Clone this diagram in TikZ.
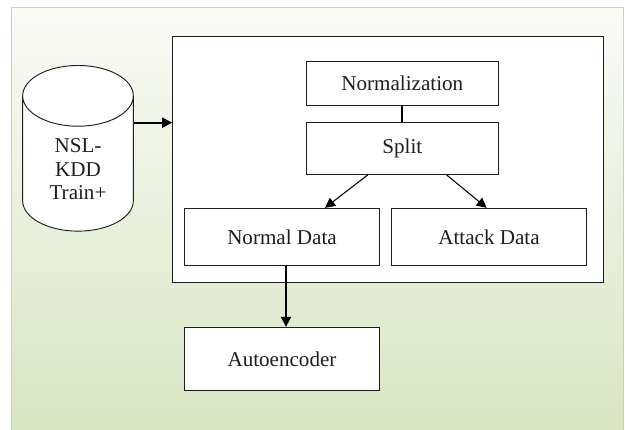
\documentclass[tikz,border=0pt]{standalone}
\usepackage{fontspec}
\setmainfont{Liberation Serif}
\usepackage{tikz}
\usetikzlibrary{shapes.geometric,arrows.meta}

\definecolor{bgtop}{RGB}{250,251,247}
\definecolor{bgbot}{RGB}{216,229,194}
\definecolor{bgline}{RGB}{197,214,172}
\definecolor{ink}{RGB}{30,30,30}

\begin{document}
\begin{tikzpicture}[>={Triangle[length=8.5pt,width=8.5pt]},
    every node/.style={font=\fontsize{18}{20}\selectfont, text=ink},
    box/.style={draw=ink, line width=0.8pt, fill=white, rectangle, minimum width=5.8cm}]
        \useasboundingbox (0,0) rectangle (18.75,12.9);
        % Background
        \shade[top color=bgtop, bottom color=bgbot, draw=bgline, line width=0.8pt]
            (0.35,-0.2) rectangle (18.70,12.68);

        % Nodes
        \node (prep) [draw=ink, line width=0.8pt, fill=white, rectangle, minimum width=12.92cm, minimum height=7.38cm] at (11.64,8.11) {};
        \node (db) [draw=ink, line width=0.8pt, fill=white, cylinder, shape border rotate=90, aspect=0.94,
            minimum width=3.32cm, minimum height=4.97cm, align=center] at (2.34,7.82) {NSL-\\KDD\\Train+};
        \node (norm) [box, minimum width=5.77cm, minimum height=1.32cm] at (12.07,10.41) {Normalization};
        \node (split) [box, minimum width=5.77cm, minimum height=1.55cm, below of=norm, node distance=1.97cm] {Split};
        \node (normal) [box, minimum width=5.83cm, minimum height=1.72cm] at (8.46,5.79) {Normal Data};
        \node (attack) [box, minimum width=5.83cm, minimum height=1.72cm, right of=normal, node distance=6.21cm] {Attack Data};
        \node (ae) [box, minimum width=5.83cm, minimum height=1.90cm, below of=normal, node distance=3.66cm] {Autoencoder};

        % Arrows
        \draw [->, line width=1.6pt] ([yshift=1.40cm]db.east) -- ([yshift=1.40cm]db.east -| prep.west);
        \draw [line width=1.6pt] (norm) -- (split);
        \draw [->, line width=0.9pt] ([xshift=-1.04cm]split.south) -- ([xshift=1.29cm]normal.north);
        \draw [->, line width=0.9pt] ([xshift=1.33cm]split.south) -- ([xshift=-0.07cm]attack.north);
        \draw [->, line width=1.6pt] ([xshift=0.12cm]normal.south) -- ([xshift=0.12cm]ae.north);
    \end{tikzpicture}
\end{document}
